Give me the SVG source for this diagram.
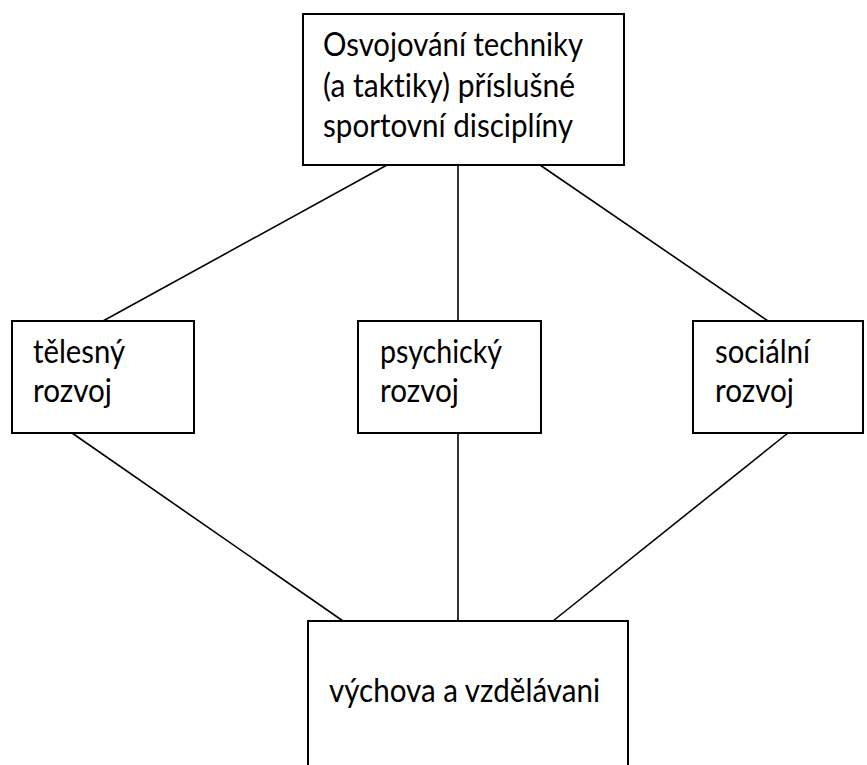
<svg xmlns="http://www.w3.org/2000/svg" width="867" height="765" viewBox="0 0 867 765">
<style>
.box{fill:#fff;stroke:#000;stroke-width:2}
.ln{stroke:#000;stroke-width:1.6;fill:none}
text{font-family:Lato,"Open Sans","Liberation Sans",sans-serif;font-size:32px;fill:#000;font-variant-ligatures:none}
</style>
<rect width="867" height="765" fill="#fff"/>
<g id="connectors">
<line class="ln" x1="387" y1="165" x2="103" y2="321"/>
<line class="ln" x1="458" y1="165" x2="458" y2="321"/>
<line class="ln" x1="540" y1="165" x2="768" y2="321"/>
<line class="ln" x1="72" y1="433" x2="343" y2="621"/>
<line class="ln" x1="458" y1="433" x2="458" y2="621"/>
<line class="ln" x1="788" y1="433" x2="553" y2="621"/>
</g>
<g id="top">
<rect class="box" x="303" y="14" width="321" height="151"/>
<text x="323" y="56" textLength="260" lengthAdjust="spacingAndGlyphs">Osvojování techniky</text>
<text x="323" y="97" textLength="252" lengthAdjust="spacingAndGlyphs">(a taktiky) příslušné</text>
<text x="323" y="137" textLength="250" lengthAdjust="spacingAndGlyphs">sportovní disciplíny</text>
</g>
<g id="telesny">
<rect class="box" x="12" y="321" width="182" height="112"/>
<text x="33" y="363" textLength="92" lengthAdjust="spacingAndGlyphs">tělesný</text>
<text x="33" y="402" textLength="79" lengthAdjust="spacingAndGlyphs">rozvoj</text>
</g>
<g id="psychicky">
<rect class="box" x="358" y="321" width="183" height="112"/>
<text x="380" y="363" textLength="122" lengthAdjust="spacingAndGlyphs">psychický</text>
<text x="380" y="402" textLength="79" lengthAdjust="spacingAndGlyphs">rozvoj</text>
</g>
<g id="socialni">
<rect class="box" x="693" y="321" width="170" height="112"/>
<text x="715" y="363" textLength="95" lengthAdjust="spacingAndGlyphs">sociální</text>
<text x="715" y="402" textLength="79" lengthAdjust="spacingAndGlyphs">rozvoj</text>
</g>
<g id="vychova">
<rect class="box" x="308" y="621" width="320" height="160"/>
<text x="329" y="702" textLength="271" lengthAdjust="spacingAndGlyphs">výchova a vzdělávani</text>
</g>
</svg>
